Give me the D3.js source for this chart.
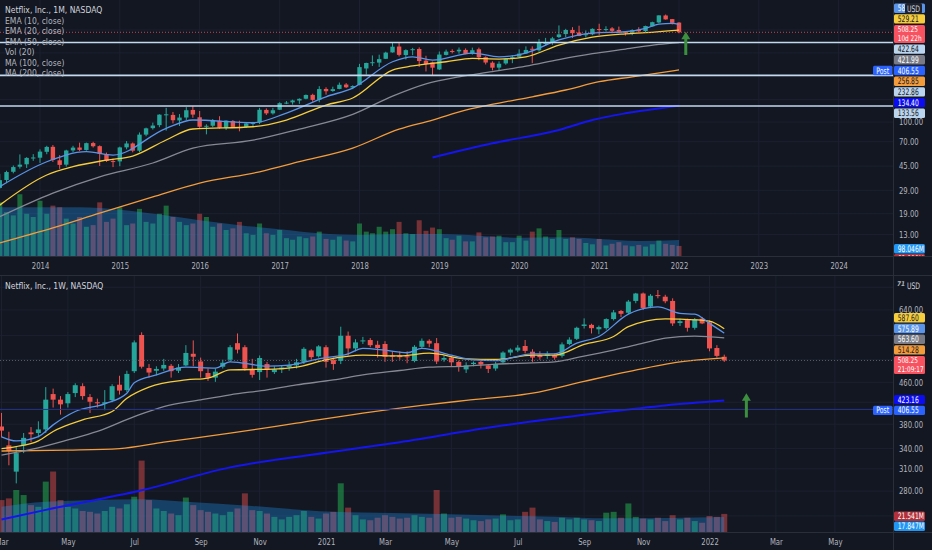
<!DOCTYPE html>
<html>
<head>
<meta charset="utf-8">
<script src="https://cdn.jsdelivr.net/npm/d3@7/dist/d3.min.js"></script>
<style>
  body { margin: 0; background: #131722; overflow: hidden; }
  text { font-family: "Liberation Sans Narrow", "DejaVu Sans Condensed", "Roboto", sans-serif; }
</style>
</head>
<body>
<svg id="chart" width="932" height="550"></svg>
<script>
// monthly candles: [month, open, high, low, close, volume (M)]
var monthly = [
  ["2013-06",32.2,33.1,29.4,30.2,280],["2013-07",30.3,39.1,29.8,34.9,330],["2013-08",35.0,41.4,33.0,40.4,270],
  ["2013-09",40.6,45.5,39.5,44.2,250],["2013-10",44.5,55.6,43.0,46.2,380],["2013-11",46.5,52.9,43.5,52.2,260],
  ["2013-12",52.3,55.9,49.5,52.6,240],["2014-01",52.4,60.9,47.7,58.5,340],["2014-02",58.3,65.0,55.8,63.7,260],
  ["2014-03",63.8,65.9,48.5,50.3,310],["2014-04",50.0,54.9,42.8,46.0,300],["2014-05",46.2,60.5,44.6,59.7,230],
  ["2014-06",59.8,65.0,57.9,62.9,200],["2014-07",63.0,68.8,59.0,60.4,240],["2014-08",60.3,68.9,59.5,68.2,180],
  ["2014-09",68.3,69.9,63.0,64.5,190],["2014-10",64.6,65.5,45.1,56.2,330],["2014-11",56.0,57.5,48.5,49.4,210],
  ["2014-12",49.3,51.5,44.2,48.8,230],["2015-01",49.0,64.0,44.9,63.1,300],["2015-02",63.2,70.8,61.0,67.8,190],
  ["2015-03",67.8,69.0,57.8,59.5,200],["2015-04",59.5,82.8,57.9,79.6,290],["2015-05",79.6,90.3,77.3,89.2,210],
  ["2015-06",89.5,98.9,87.2,93.8,200],["2015-07",94.5,115.0,91.0,114.3,260],["2015-08",114.5,129.3,85.5,115.0,310],
  ["2015-09",113.7,120.0,97.5,103.3,240],["2015-10",102.9,115.5,93.1,108.4,210],["2015-11",108.5,130.9,103.8,123.8,190],
  ["2015-12",124.5,133.3,107.9,114.4,200],["2016-01",109.0,122.2,90.0,91.8,260],["2016-02",91.8,96.0,80.0,93.4,240],
  ["2016-03",93.5,105.5,91.0,102.2,180],["2016-04",102.3,111.0,88.5,90.0,200],["2016-05",90.3,103.0,86.6,102.6,160],
  ["2016-06",102.0,103.6,90.6,91.5,170],["2016-07",91.5,102.5,84.5,91.3,210],["2016-08",91.5,98.5,89.8,97.5,140],
  ["2016-09",97.4,100.2,93.2,98.6,130],["2016-10",99.0,129.3,96.3,124.9,200],["2016-11",124.5,128.0,113.6,117.0,140],
  ["2016-12",117.0,129.3,114.5,123.8,130],["2017-01",124.9,142.9,124.3,140.7,160],["2017-02",140.9,146.2,138.3,142.1,110],
  ["2017-03",142.8,149.9,137.2,147.8,100],["2017-04",147.6,153.5,139.0,152.2,120],["2017-05",152.5,164.8,150.9,163.1,110],
  ["2017-06",163.5,166.9,144.3,149.4,120],["2017-07",149.8,191.5,143.0,181.7,150],["2017-08",182.0,187.6,164.2,174.7,105],
  ["2017-09",175.4,189.6,173.0,181.4,100],["2017-10",182.1,204.4,181.0,196.4,120],["2017-11",197.2,202.5,185.0,187.6,95],
  ["2017-12",186.9,194.5,181.3,192.0,90],["2018-01",196.1,286.8,194.6,270.3,200],["2018-02",263.8,293.0,236.1,291.4,150],
  ["2018-03",292.8,334.0,275.9,295.4,140],["2018-04",293.4,338.8,271.2,312.5,180],["2018-05",314.3,357.2,313.2,351.6,150],
  ["2018-06",353.0,423.2,351.4,391.4,165],["2018-07",392.5,419.8,328.0,337.5,210],["2018-08",336.6,373.4,310.9,367.7,140],
  ["2018-09",367.6,383.2,335.8,374.1,135],["2018-10",375.5,386.8,271.2,301.8,220],["2018-11",304.0,332.0,250.0,286.1,155],
  ["2018-12",295.0,298.7,231.2,267.7,175],["2019-01",259.3,358.9,256.6,339.5,165],["2019-02",337.2,371.5,334.0,358.1,110],
  ["2019-03",362.3,373.3,346.7,356.6,100],["2019-04",359.7,386.0,344.6,370.5,125],["2019-05",369.3,379.5,342.0,343.3,90],
  ["2019-06",344.0,385.0,339.0,367.3,90],["2019-07",373.5,385.0,306.5,323.0,145],["2019-08",324.0,328.2,283.7,293.8,115],
  ["2019-09",293.0,300.5,254.6,267.6,120],["2019-10",268.0,300.0,252.3,287.4,125],["2019-11",289.0,316.7,282.3,314.7,85],
  ["2019-12",316.0,336.0,290.4,323.6,85],["2020-01",326.1,373.0,321.0,345.1,125],["2020-02",347.0,393.5,346.0,369.0,95],
  ["2020-03",377.0,393.5,290.3,375.5,150],["2020-04",367.0,449.5,357.0,419.9,170],["2020-05",411.0,459.0,400.0,419.7,120],
  ["2020-06",421.0,467.7,405.0,455.0,105],["2020-07",466.0,575.4,458.0,488.9,160],["2020-08",492.0,541.0,466.0,529.6,105],
  ["2020-09",530.0,557.4,458.6,500.0,115],["2020-10",506.0,572.5,474.0,475.7,105],["2020-11",484.0,526.0,463.4,490.7,80],
  ["2020-12",490.0,546.0,482.0,540.7,72],["2021-01",539.0,593.3,484.2,532.4,105],["2021-02",536.0,566.6,516.2,538.9,65],
  ["2021-03",545.0,558.3,499.6,521.7,75],["2021-04",530.0,563.6,505.5,513.5,85],["2021-05",512.0,515.5,478.5,502.8,65],
  ["2021-06",504.0,536.1,482.1,528.2,60],["2021-07",533.0,557.0,508.1,517.6,68],["2021-08",519.0,573.0,506.0,569.2,58],
  ["2021-09",566.0,615.6,565.0,610.3,72],["2021-10",607.0,690.9,598.5,690.3,95],["2021-11",689.0,701.0,639.0,641.9,75],
  ["2021-12",645.0,646.8,585.0,602.4,68],["2022-01",605.6,610.0,499.0,508.25,62]
];

// weekly candles: [week start, open, high, low, close, volume (M)]
var weekly = [
  ["2020-02-24",386,393,355,369,38],["2020-03-02",376,400,358,369,38],["2020-03-09",345,367,315,336,40],
  ["2020-03-16",306,342,290,333,50],["2020-03-23",345,365,333,357,44],["2020-03-30",366,375,350,363,32],
  ["2020-04-06",365,385,358,371,30],["2020-04-13",371,450,365,425,60],["2020-04-20",436,447,410,425,72],
  ["2020-04-27",425,432,397,416,38],["2020-05-04",418,440,410,436,30],["2020-05-11",438,458,430,454,28],
  ["2020-05-18",452,458,425,432,25],["2020-05-25",430,436,400,421,24],["2020-06-01",420,427,410,418,22],
  ["2020-06-08",417,444,405,420,25],["2020-06-15",424,456,420,452,30],["2020-06-22",455,474,435,443,28],
  ["2020-06-29",444,485,440,478,33],["2020-07-06",484,557,480,552,42],["2020-07-13",571,578,490,494,85],
  ["2020-07-20",491,500,470,481,38],["2020-07-27",485,495,475,489,28],["2020-08-03",490,512,485,498,25],
  ["2020-08-10",496,500,470,484,22],["2020-08-17",485,500,480,492,20],["2020-08-24",497,545,495,526,41],
  ["2020-08-31",524,557,495,517,32],["2020-09-07",506,515,470,484,26],["2020-09-14",480,490,463,470,24],
  ["2020-09-21",470,490,461,483,22],["2020-09-28",494,510,490,503,20],["2020-10-05",510,545,505,540,24],
  ["2020-10-12",550,575,525,534,28],["2020-10-19",540,545,485,490,46],["2020-10-26",487,512,470,476,26],
  ["2020-11-02",482,520,465,514,25],["2020-11-09",500,505,470,487,22],["2020-11-16",482,495,478,488,18],
  ["2020-11-23",488,496,480,492,15],["2020-11-30",493,506,485,498,18],["2020-12-07",497,512,490,504,20],
  ["2020-12-14",505,540,500,536,25],["2020-12-21",532,535,510,516,18],["2020-12-28",518,545,515,542,16],
  ["2021-01-04",540,545,492,505,22],["2021-01-11",510,515,487,500,24],["2021-01-18",507,593,500,569,58],
  ["2021-01-25",569,580,520,537,29],["2021-02-01",537,560,530,552,20],["2021-02-08",556,566,548,557,15],
  ["2021-02-15",558,563,540,545,14],["2021-02-22",546,556,515,538,17],["2021-03-01",548,555,505,517,20],
  ["2021-03-08",520,530,505,517,18],["2021-03-15",520,530,510,516,16],["2021-03-22",518,530,502,517,17],
  ["2021-03-29",507,545,504,541,20],["2021-04-05",541,562,538,556,18],["2021-04-12",556,560,540,549,17],
  ["2021-04-19",550,563,500,506,50],["2021-04-26",510,520,505,514,22],["2021-05-03",515,518,495,504,17],
  ["2021-05-10",505,508,483,494,18],["2021-05-17",488,504,480,497,16],["2021-05-24",500,506,495,503,14],
  ["2021-05-31",505,510,490,499,13],["2021-06-07",497,500,480,489,15],["2021-06-14",490,505,485,500,16],
  ["2021-06-21",504,530,500,527,21],["2021-06-28",527,537,520,534,14],["2021-07-05",532,545,528,539,15],
  ["2021-07-12",543,558,525,531,24],["2021-07-19",529,535,505,515,29],["2021-07-26",521,530,510,516,15],
  ["2021-08-02",519,530,512,524,13],["2021-08-09",521,525,510,515,12],["2021-08-16",519,552,515,547,17],
  ["2021-08-23",548,565,545,559,15],["2021-08-30",561,593,558,590,17],["2021-09-06",595,616,588,599,15],
  ["2021-09-13",598,601,575,589,14],["2021-09-20",586,596,573,592,13],["2021-09-27",589,616,585,614,23],
  ["2021-10-04",614,640,610,633,24],["2021-10-11",637,640,620,629,17],["2021-10-18",632,670,628,665,34],
  ["2021-10-25",667,692,660,690,18],["2021-11-01",690,693,640,646,16],["2021-11-08",650,688,645,683,15],
  ["2021-11-15",685,701,675,682,17],["2021-11-22",680,686,660,666,13],["2021-11-29",667,675,595,602,20],
  ["2021-12-06",603,615,595,608,15],["2021-12-13",611,615,580,590,17],["2021-12-20",590,617,585,613,13],
  ["2021-12-27",615,620,600,602,11],["2022-01-03",605,610,530,537,19],["2022-01-10",538,545,515,519,18],
  ["2022-01-17",517,522,505,508.25,21.541]
];

// indicator values
var ema10M = [["2013-07",31],["2014-02",48.7],["2014-08",58.4],["2014-12",55],["2015-08",89.2],["2015-12",103.7],
  ["2016-09",98.7],["2017-02",117.7],["2017-08",158],["2017-12",185],["2018-06",298],["2018-09",326],["2018-12",307],
  ["2019-06",349],["2019-10",326],["2020-02",349],["2020-07",442],["2020-12",501],["2021-05",513],["2021-08",546],
  ["2021-10",588],["2021-12",598],["2022-01",585.4]];
var ema20M = [["2013-07",22.2],["2014-02",38.3],["2014-06",44.5],["2014-11",50.2],["2015-03",54],["2015-08",72.2],
  ["2015-12",88.1],["2016-09",91.8],["2017-02",103.7],["2017-08",136],["2017-12",154.5],["2018-06",256.5],["2018-09",276],
  ["2019-02",298],["2019-06",317],["2019-10",313],["2020-02",326],["2020-07",403],["2020-12",465],["2021-05",494],
  ["2021-08",505],["2022-01",529.21]];
var ema50M = [["2013-07",18],["2014-03",27.6],["2014-10",37.1],["2015-06",47.6],["2015-12",62.4],["2016-09",72],
  ["2017-04",88],["2017-12",115],["2018-06",160],["2018-11",200],["2019-04",227],["2019-09",249],["2020-02",275],
  ["2020-07",310],["2020-12",345],["2021-05",375],["2021-10",408],["2022-01",421.99]];
var ma100M = [["2013-07",11.2],["2014-03",14.7],["2014-10",19.2],["2015-06",25.8],["2016-01",33.1],["2016-10",40.6],
  ["2017-04",48.7],["2017-12",62.4],["2018-07",88],["2018-12",103.7],["2019-05",124],["2019-10",141],["2020-03",158],
  ["2020-08",178.6],["2021-01",207.5],["2021-06",227],["2022-01",256.85]];
var ma200M = [["2018-12",52.6],["2019-09",68],["2020-07",86.5],["2020-12",103.7],["2021-05",117],["2022-01",134.4]];
var volMaM = [["2013-07",300],["2014-07",300],["2015-01",285],["2015-07",255],["2016-01",220],["2016-07",190],
  ["2017-01",165],["2017-07",140],["2018-01",130],["2018-07",135],["2019-01",135],["2019-07",125],["2020-01",112],
  ["2020-07",115],["2021-01",105],["2021-07",92],["2022-01",98.046]];

var ema10W = [["2020-03-02",358.7],["2020-03-16",352],["2020-04-06",359],["2020-04-20",378.8],["2020-05-11",402.6],
  ["2020-06-08",417],["2020-06-29",437.6],["2020-07-06",459],["2020-07-27",475.8],["2020-08-24",493],["2020-09-21",491],
  ["2020-10-05",505],["2020-11-09",495.5],["2020-11-30",497.6],["2020-12-28",512],["2021-01-25",524],["2021-02-08",537],
  ["2021-03-01",532.6],["2021-03-22",526.5],["2021-04-05",537],["2021-05-03",520.6],["2021-05-24",509.7],
  ["2021-06-14",508],["2021-07-19",524],["2021-08-09",524],["2021-08-30",550],["2021-09-20",567],["2021-10-18",628],
  ["2021-11-15",649],["2021-12-06",630],["2021-12-20",628],["2022-01-03",602],["2022-01-17",575.89]];
var ema20W = [["2020-03-02",340],["2020-03-16",343],["2020-04-06",352],["2020-04-20",367.6],["2020-05-18",387.5],
  ["2020-06-15",402.6],["2020-06-29",427.6],["2020-07-20",450],["2020-08-24",465],["2020-09-14",469],["2020-10-05",487],
  ["2020-11-16",488.6],["2020-12-07",493],["2021-01-04",509.7],["2021-02-08",520.6],["2021-03-15",519],
  ["2021-04-12",525.4],["2021-05-17",512],["2021-06-14",510.5],["2021-07-19",520.6],["2021-08-09",520.6],
  ["2021-09-06",547],["2021-10-04",567],["2021-10-18",593],["2021-11-22",614.7],["2021-12-20",612],["2022-01-03",608],
  ["2022-01-17",587.6]];
var ema50W = [["2020-03-02",330],["2020-03-30",338.6],["2020-05-04",353.7],["2020-06-01",367.6],["2020-07-06",393.4],
  ["2020-08-03",411.8],["2020-09-07",424.6],["2020-10-05",434.5],["2020-11-09",444.6],["2020-12-07",454.6],
  ["2021-01-11",465],["2021-02-08",475.8],["2021-03-15",485.5],["2021-04-12",493],["2021-05-17",495.5],
  ["2021-06-14",500],["2021-07-19",502.8],["2021-08-09",505],["2021-09-06",518.7],["2021-10-04",533],
  ["2021-11-01",550],["2021-11-22",563],["2021-12-20",568],["2022-01-17",563.6]];
var ma100W = [["2020-03-02",336.2],["2020-05-04",337.6],["2020-06-22",340],["2020-08-03",350],["2020-10-05",364.7],
  ["2020-12-07",381.7],["2021-02-08",399.6],["2021-04-05",414],["2021-05-17",423.6],["2021-07-19",437.8],
  ["2021-09-06",462],["2021-10-18",483],["2021-12-06",505],["2022-01-17",514.28]];
var ma200W = [["2020-03-02",246],["2020-04-13",257],["2020-07-13",281],["2020-10-05",312],["2021-01-11",335],
  ["2021-03-15",350],["2021-06-14",376],["2021-09-20",400],["2021-11-22",414],["2022-01-17",423.16]];
var volMaW = [["2020-03-02",30],["2020-04-13",36],["2020-07-13",39],["2020-08-24",36],["2020-10-26",31],
  ["2021-01-11",24],["2021-03-08",22.6],["2021-06-07",20],["2021-08-09",18.2],["2021-09-27",16.3],["2022-01-17",17.847]];

var hLinesM = [422.64, 232.86, 133.56];
var postPrice = 406.55;
var arrowsM = [["2022-02", 336.6, 513.6]];
var arrowsW = [["2022-02-07", 391.6, 437.8]];
var countdownM = "10d 22h";
var countdownW = "21:09:17";

var yearTicks = ["2014-01","2015-01","2016-01","2017-01","2018-01","2019-01","2020-01","2021-01","2022-01","2023-01","2024-01"];
var weekTicks = ["2020-03-02","2020-05-04","2020-07-06","2020-09-07","2020-11-02","2021-01-04","2021-03-01","2021-05-03",
  "2021-07-05","2021-09-06","2021-11-01","2022-01-03","2022-03-07","2022-05-02"];
var priceTicksM = [13, 19, 29, 45, 70, 100];
var priceGridM = [13, 19, 29, 45, 70, 100, 150, 230, 350, 530];
var priceTicksW = [250, 280, 310, 340, 380, 460, 640];
var priceGridW = [250, 280, 310, 340, 380, 420, 460, 510, 570, 640, 710];
var legendM = ["Netflix, Inc., 1M, NASDAQ", "EMA (10, close)", "EMA (20, close)", "EMA (50, close)", "Vol (20)", "MA (100, close)", "MA (200, close)"];
var legendW = ["Netflix, Inc., 1W, NASDAQ"];

var C = {
  bg: '#131722', grid: '#1c2030', border: '#2a2e39', text: '#b2b5be',
  up: '#26a69a', down: '#ef5350', upVol: 'rgba(34,171,80,0.55)', downVol: 'rgba(239,83,80,0.45)',
  volMa: 'rgba(33,150,243,0.33)', ema10: '#5a94e8', ema20: '#f5cd3d', ema50: '#868993',
  ma100: '#f39c3c', ma200: '#1515f0', hline: '#c3d9ef', post: '#2962ff', arrow: '#3c8f3f'
};

var AX = 893;
var parseM = d3.timeParse('%Y-%m');
var parseW = d3.timeParse('%Y-%m-%d');

var svg = d3.select('#chart');
svg.append('rect').attr('width', 932).attr('height', 550).attr('fill', C.bg);

var defs = svg.append('defs');
function clip(id, x, y, w, h) {
  defs.append('clipPath').attr('id', id).append('rect').attr('x', x).attr('y', y).attr('width', w).attr('height', h);
}
clip('paneTop', 0, 0, AX, 256);
clip('paneBot', 0, 276, AX, 256);
clip('axTop', AX, 0, 932 - AX, 256);
clip('axBot', AX, 276, 932 - AX, 256);
clip('underUsd', AX, 0, 12, 20);

// squeeze text horizontally so the condensed fallback font matches the narrow chart font
function narrow(sel, k) {
  sel.each(function () {
    var t = d3.select(this);
    var x = +t.attr('x') || 0, y = +t.attr('y') || 0;
    t.attr('x', 0).attr('y', 0).attr('transform', 'translate(' + x + ',' + y + ') scale(' + k + ',1)');
  });
}

var paneM = {
  rows: monthly, parse: parseM, y0: 0, y1: 256, clip: 'paneTop', axClip: 'axTop',
  x: d3.scaleTime().domain([new Date(2014, 0, 1), new Date(2022, 0, 1)]).range([40, 679]),
  y: d3.scaleLog().domain([8.83, 912]).range([256, 0]),
  v: d3.scaleLinear().domain([0, 400]).range([256, 191]),
  bodyW: 4.4, volW: 5,
  lines: [
    {data: ma200M, color: C.ma200, width: 2}, {data: ma100M, color: C.ma100, width: 1.3},
    {data: ema50M, color: C.ema50, width: 1.3}, {data: ema20M, color: C.ema20, width: 1.3},
    {data: ema10M, color: C.ema10, width: 1.3}
  ],
  volMa: volMaM, timeTicks: yearTicks, grid: priceGridM, ticks: priceTicksM,
  hLines: hLinesM, arrows: arrowsM, priceLine: '#f7525f', countdown: countdownM, legend: legendM,
  volMin: 244, volMax: 270, topClip: 'underUsd'
};
var paneW = {
  rows: weekly, parse: parseW, y0: 276, y1: 532, clip: 'paneBot', axClip: 'axBot',
  x: d3.scaleTime().domain([new Date(2021, 0, 4), new Date(2022, 0, 3)]).range([326, 709.5]),
  y: d3.scaleLog().domain([232.3, 747.4]).range([532, 276]),
  v: d3.scaleLinear().domain([0, 100]).range([532, 448]),
  bodyW: 5, volW: 6,
  lines: [
    {data: ma200W, color: C.ma200, width: 2}, {data: ma100W, color: C.ma100, width: 1.3},
    {data: ema50W, color: C.ema50, width: 1.3}, {data: ema20W, color: C.ema20, width: 1.3},
    {data: ema10W, color: C.ema10, width: 1.3}
  ],
  volMa: volMaW, timeTicks: weekTicks, grid: priceGridW, ticks: priceTicksW,
  hLines: [], arrows: arrowsW, priceLine: '#6a6d78', postLine: true, countdown: countdownW, legend: legendW,
  volMin: 511.5, volMax: 531.2
};

function last(arr) { return arr[arr.length - 1]; }

function drawPane(p) {
  var X = function (s) { return p.x(p.parse(s)); };
  var g = svg.append('g').attr('clip-path', 'url(#' + p.clip + ')');

  g.selectAll('.hgrid').data(p.grid).enter().append('line')
    .attr('x1', 0).attr('x2', AX).attr('y1', p.y).attr('y2', p.y)
    .attr('stroke', C.grid).attr('stroke-width', 1);
  g.selectAll('.vgrid').data(p.timeTicks).enter().append('line')
    .attr('x1', X).attr('x2', X).attr('y1', p.y0).attr('y2', p.y1)
    .attr('stroke', C.grid).attr('stroke-width', 1);

  g.selectAll('.vol').data(p.rows).enter().append('rect')
    .attr('x', function (d) { return X(d[0]) - p.volW / 2; })
    .attr('y', function (d) { return p.v(d[5]); })
    .attr('width', p.volW)
    .attr('height', function (d) { return p.y1 - p.v(d[5]); })
    .attr('fill', function (d) { return d[4] >= d[1] ? C.upVol : C.downVol; });

  var area = d3.area().x(function (d) { return X(d[0]); }).y0(p.y1)
    .y1(function (d) { return p.v(d[1]); }).curve(d3.curveMonotoneX);
  g.append('path').datum(p.volMa).attr('d', area).attr('fill', C.volMa);

  var candles = g.selectAll('.candle').data(p.rows).enter().append('g');
  candles.append('line')
    .attr('x1', function (d) { return X(d[0]); }).attr('x2', function (d) { return X(d[0]); })
    .attr('y1', function (d) { return p.y(d[2]); }).attr('y2', function (d) { return p.y(d[3]); })
    .attr('stroke', function (d) { return d[4] >= d[1] ? C.up : C.down; }).attr('stroke-width', 1);
  candles.append('rect')
    .attr('x', function (d) { return X(d[0]) - p.bodyW / 2; })
    .attr('y', function (d) { return p.y(Math.max(d[1], d[4])); })
    .attr('width', p.bodyW)
    .attr('height', function (d) { return Math.max(1, Math.abs(p.y(d[1]) - p.y(d[4]))); })
    .attr('fill', function (d) { return d[4] >= d[1] ? C.up : C.down; });

  p.lines.forEach(function (ln) {
    var line = d3.line().x(function (d) { return X(d[0]); }).y(function (d) { return p.y(d[1]); })
      .curve(d3.curveMonotoneX);
    g.append('path').datum(ln.data).attr('d', line).attr('fill', 'none')
      .attr('stroke', ln.color).attr('stroke-width', ln.width).attr('stroke-linejoin', 'round');
  });

  var close = last(p.rows)[4];
  g.append('line').attr('x1', 0).attr('x2', AX).attr('y1', p.y(close)).attr('y2', p.y(close))
    .attr('stroke', p.priceLine).attr('stroke-width', 1).attr('stroke-dasharray', '1,2').attr('opacity', 0.8);
  if (p.postLine) {
    g.append('line').attr('x1', 0).attr('x2', AX).attr('y1', p.y(postPrice)).attr('y2', p.y(postPrice))
      .attr('stroke', '#27348a').attr('stroke-width', 1);
  }
  g.selectAll('.hline').data(p.hLines).enter().append('line')
    .attr('x1', 0).attr('x2', AX).attr('y1', p.y).attr('y2', p.y)
    .attr('stroke', C.hline).attr('stroke-width', 1.6);

  p.arrows.forEach(function (a) {
    var x0 = X(a[0]), yb = p.y(a[1]), yt = p.y(a[2]), hl = 7.5;
    var pts = [[x0 - 1.5, yb], [x0 - 1.5, yt + hl], [x0 - 4.5, yt + hl], [x0, yt],
      [x0 + 4.5, yt + hl], [x0 + 1.5, yt + hl], [x0 + 1.5, yb]];
    g.append('polygon').attr('points', pts.map(function (q) { return q.join(','); }).join(' '))
      .attr('fill', C.arrow);
  });

  // legend
  svg.append('g').selectAll('text').data(p.legend).enter().append('text')
    .attr('x', 5).attr('y', function (d, i) { return p.y0 + 10 + i * 10.55; })
    .attr('dominant-baseline', 'central').attr('font-size', 8.5)
    .attr('fill', function (d, i) { return i === 0 ? '#d1d4dc' : C.text; })
    .text(function (d) { return d; });

  // price axis ticks
  var ay = svg.append('g').attr('transform', 'translate(' + AX + ',0)')
    .call(d3.axisRight(p.y).tickValues(p.ticks).tickFormat(d3.format('.2f')).tickSize(0).tickPadding(6));
  ay.select('.domain').remove();
  ay.attr('font-size', 9).attr('font-family', null).attr('color', C.text);
  narrow(ay.selectAll('text'), 0.85);

  // time axis
  var fmt = function (d) { return d.getMonth() === 0 ? d3.timeFormat('%Y')(d) : d3.timeFormat('%b')(d); };
  var ax = svg.append('g').attr('transform', 'translate(0,' + p.y1 + ')')
    .call(d3.axisBottom(p.x).tickValues(p.timeTicks.map(p.parse)).tickFormat(fmt).tickSize(0).tickPadding(6.5));
  ax.select('.domain').remove();
  ax.attr('font-size', 9).attr('font-family', null).attr('color', C.text);
  narrow(ax.selectAll('text'), 0.85);

  // right-hand value labels
  var items = [
    {v: last(p.lines[4].data)[1], bg: C.ema10, fg: '#fff', clip: p.topClip},
    {v: last(p.lines[3].data)[1], bg: C.ema20, fg: '#131722'},
    {v: last(p.lines[2].data)[1], bg: '#787b86', fg: '#fff'},
    {v: last(p.lines[1].data)[1], bg: C.ma100, fg: '#131722'},
    {v: last(p.lines[0].data)[1], bg: '#0c0cf0', fg: '#fff'},
    {v: close, bg: '#f7525f', fg: '#fff', sub: p.countdown},
    {v: postPrice, bg: C.post, fg: '#fff', post: true}
  ];
  p.hLines.forEach(function (h) { items.push({v: h, bg: '#bcd5ee', fg: '#131722'}); });
  items.forEach(function (d) { d.y = p.y(d.v); d.text = d3.format('.2f')(d.v); });
  stack(items, p.y0 + 3.5, p.y1 - 2, 1.3);

  var volItems = [
    {v: last(p.volMa)[1], bg: '#2196f3', fg: '#fff'},
    {v: last(p.rows)[5], bg: '#b2303a', fg: '#fff'}
  ];
  volItems.forEach(function (d) { d.y = p.v(d.v); d.text = d3.format('.3f')(d.v) + 'M'; });
  stack(volItems, p.volMin, p.volMax, 0.6);

  drawLabels(svg.append('g').attr('clip-path', 'url(#' + p.axClip + ')'), volItems);
  drawLabels(svg.append('g'), items);
}

function stack(items, minY, maxY, gap) {
  items.forEach(function (d) { d.h = d.sub ? 18.2 : 9.4; });
  items.sort(function (a, b) { return a.y - b.y; });
  var clusters = items.map(function (d) { return {items: [d], h: d.h}; });
  function place(cl) {
    var c = d3.mean(cl.items, function (d) { return d.y; });
    cl.top = Math.max(minY, Math.min(maxY - cl.h, c - cl.h / 2));
  }
  clusters.forEach(place);
  var merged = true;
  while (merged) {
    merged = false;
    for (var i = 0; i < clusters.length - 1; i++) {
      var a = clusters[i], b = clusters[i + 1];
      if (a.top + a.h + gap > b.top) {
        var cl = {items: a.items.concat(b.items), h: a.h + gap + b.h};
        place(cl);
        clusters.splice(i, 2, cl);
        merged = true;
        break;
      }
    }
  }
  clusters.forEach(function (cl) {
    var t = cl.top;
    cl.items.forEach(function (d) { d.top = t; t += d.h + gap; });
  });
}

function drawLabels(g, items) {
  items.forEach(function (d) {
    g.append('rect').attr('x', AX + 1).attr('y', d.top).attr('width', 31).attr('height', d.h)
      .attr('rx', 1.5).attr('fill', d.bg);
    var tg = d.clip ? g.append('g').attr('clip-path', 'url(#' + d.clip + ')') : g;
    var fs = d.sub ? 7.8 : 9;
    tg.append('text').attr('x', AX + 4.8).attr('y', d.top + (d.sub ? 4.6 : 4.9)).attr('dominant-baseline', 'central')
      .attr('font-size', fs).attr('fill', d.fg).text(d.text).call(narrow, d.sub ? 0.82 : 0.74);
    if (d.sub) {
      g.append('text').attr('x', AX + 4.8).attr('y', d.top + 13.7).attr('dominant-baseline', 'central')
        .attr('font-size', fs).attr('fill', d.fg).text(d.sub).call(narrow, 0.82);
    }
    if (d.post) {
      g.append('rect').attr('x', AX - 20).attr('y', d.top).attr('width', 19.5).attr('height', d.h)
        .attr('rx', 1.5).attr('fill', C.post);
      g.append('text').attr('x', AX - 10.3).attr('y', d.top + 4.9).attr('dominant-baseline', 'central')
        .attr('text-anchor', 'middle').attr('font-size', 9).attr('fill', '#fff').text('Post').call(narrow, 0.76);
    }
  });
}

drawPane(paneM);
drawPane(paneW);

// frame lines
svg.append('line').attr('x1', 0).attr('x2', 932).attr('y1', 256.5).attr('y2', 256.5).attr('stroke', C.border);
svg.append('line').attr('x1', 0).attr('x2', 932).attr('y1', 275.5).attr('y2', 275.5).attr('stroke', C.border);
svg.append('line').attr('x1', 0).attr('x2', 932).attr('y1', 532.5).attr('y2', 532.5).attr('stroke', C.border);
svg.append('line').attr('x1', AX + 0.5).attr('x2', AX + 0.5).attr('y1', 0).attr('y2', 550).attr('stroke', C.border);

// currency badges
svg.append('rect').attr('x', 905).attr('y', 3).attr('width', 17).attr('height', 11).attr('rx', 2).attr('fill', '#1e222d');
svg.append('text').attr('x', 913.5).attr('y', 8.7).attr('text-anchor', 'middle').attr('dominant-baseline', 'central')
  .attr('font-size', 9).attr('fill', '#d1d4dc').text('USD').call(narrow, 0.76);
svg.append('text').attr('x', 897).attr('y', 283.5).attr('dominant-baseline', 'central')
  .attr('font-size', 6.5).attr('font-style', 'italic').attr('font-weight', 'bold').attr('fill', C.text).text('71');
svg.append('text').attr('x', 913.5).attr('y', 286).attr('text-anchor', 'middle').attr('dominant-baseline', 'central')
  .attr('font-size', 9).attr('fill', '#d1d4dc').text('USD').call(narrow, 0.76);
</script>
</body>
</html>
